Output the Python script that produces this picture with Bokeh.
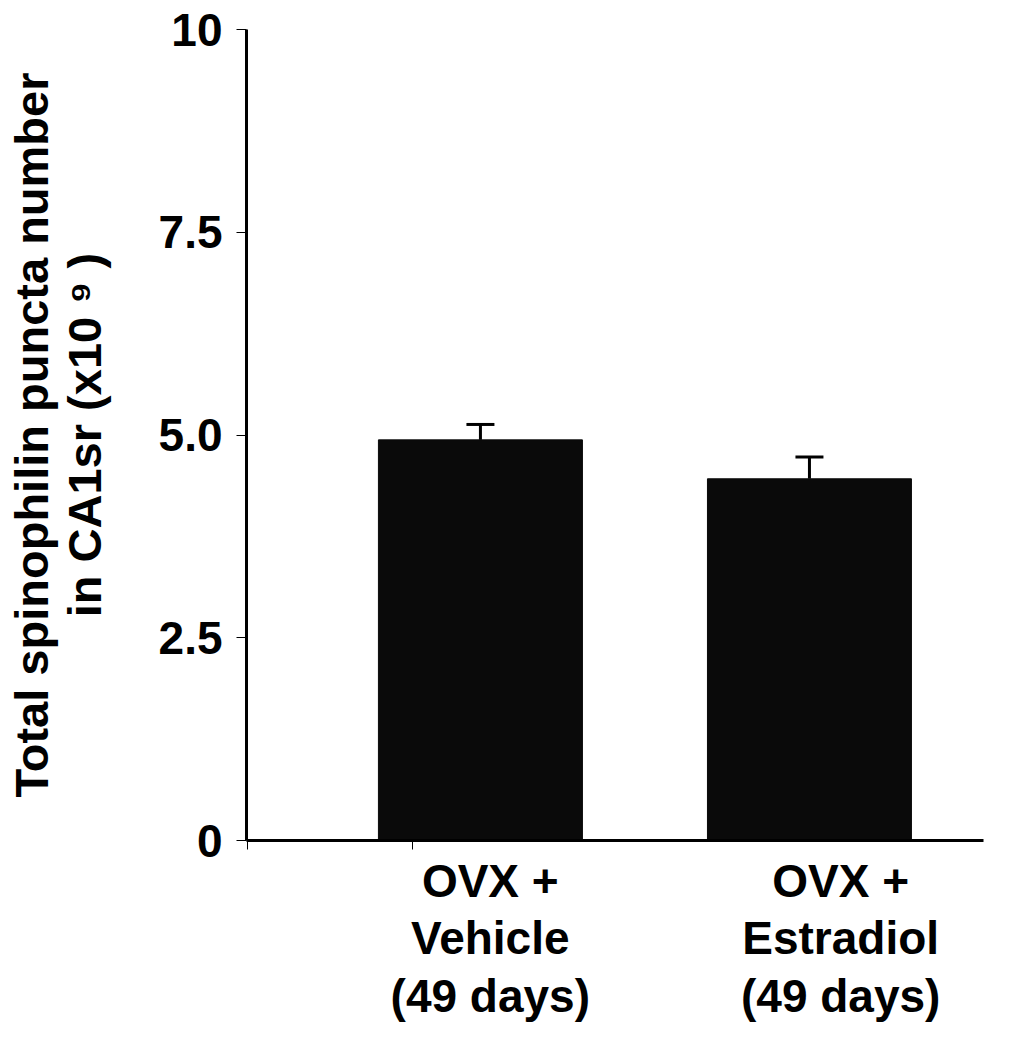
from bokeh.plotting import figure
from bokeh.models import (Range1d, FixedTicker, LinearAxis, Whisker, ColumnDataSource,
                          CustomJSTickFormatter, TeeHead)
from bokeh.embed import file_html
from bokeh.resources import INLINE

# ---- data ----
groups = ["OVX +\nVehicle\n(49 days)", "OVX +\nEstradiol\n(49 days)"]
means = [4.94, 4.46]
sems = [0.19, 0.27]
y_ticks = [0, 2.5, 5.0, 7.5, 10]
y_tick_labels = ["0", "2.5", "5.0", "7.5", "10"]
y_label = "Total spinophilin puncta number\nin CA1sr (x10 \u2079 )"

# ---- layout positions ----
bar_x = [1.0, 2.0]
label_x = [1.03, 2.095]
x_tick_marks = [0.292, 0.793]

FONT = "Liberation Sans"

src = ColumnDataSource(dict(
    x=bar_x, mean=means,
    lower=means,
    upper=[m + s for m, s in zip(means, sems)],
))

p = figure(frame_width=737, frame_height=811,
           x_range=Range1d(0.289, 2.529), y_range=Range1d(0, 10),
           output_backend="svg", toolbar_location=None,
           min_border_left=246, min_border_right=21,
           min_border_top=29, min_border_bottom=180,
           x_axis_type=None, y_axis_type=None)
p.outline_line_color = None
p.xgrid.visible = False
p.ygrid.visible = False
p.background_fill_color = "white"
p.border_fill_color = "white"

p.vbar(x="x", top="mean", bottom=0, width=0.62, source=src,
       fill_color="#0a0a0a", line_color="#0a0a0a")

p.add_layout(Whisker(base="x", lower="lower", upper="upper", source=src,
                     dimension="height", line_color="black", line_width=3,
                     upper_head=TeeHead(size=28, line_width=3, line_color="black"),
                     lower_head=None))

# y axis
yax = LinearAxis(ticker=FixedTicker(ticks=y_ticks),
                 major_label_overrides={float(t): l for t, l in zip(y_ticks, y_tick_labels)})
yax.axis_line_width = 3
yax.axis_line_color = "black"
yax.major_tick_in = 0
yax.major_tick_out = 10
yax.major_tick_line_width = 1
yax.minor_tick_line_color = None
yax.major_label_text_font = FONT
yax.major_label_text_font_style = "bold"
yax.major_label_text_font_size = "46px"
yax.major_label_text_color = "black"
yax.major_label_standoff = 14
yax.axis_label = y_label
yax.axis_label_text_font = FONT
yax.axis_label_text_font_style = "bold"
yax.axis_label_text_font_size = "47px"
yax.axis_label_text_color = "black"
yax.axis_label_text_line_height = 1.0
yax.axis_label_standoff = 45
p.add_layout(yax, "left")

# x axis (line + tick marks)
xax = LinearAxis(ticker=FixedTicker(ticks=x_tick_marks),
                 formatter=CustomJSTickFormatter(code="return '';"))
xax.axis_line_width = 3
xax.axis_line_color = "black"
xax.major_tick_in = 0
xax.major_tick_out = 9
xax.major_tick_line_width = 1
xax.minor_tick_line_color = None
xax.major_label_text_font_size = "1px"
xax.major_label_standoff = 0
p.add_layout(xax, "below")

# x category labels
lax = LinearAxis(ticker=FixedTicker(ticks=label_x),
                 major_label_overrides={float(t): g for t, g in zip(label_x, groups)})
lax.axis_line_color = None
lax.major_tick_line_color = None
lax.minor_tick_line_color = None
lax.major_tick_in = 0
lax.major_tick_out = 0
lax.major_label_standoff = 5
lax.major_label_text_font = FONT
lax.major_label_text_font_style = "bold"
lax.major_label_text_font_size = "46px"
lax.major_label_text_color = "black"
lax.major_label_text_line_height = 1.11
p.add_layout(lax, "below")

open("out.html", "w").write(file_html(p, INLINE))
